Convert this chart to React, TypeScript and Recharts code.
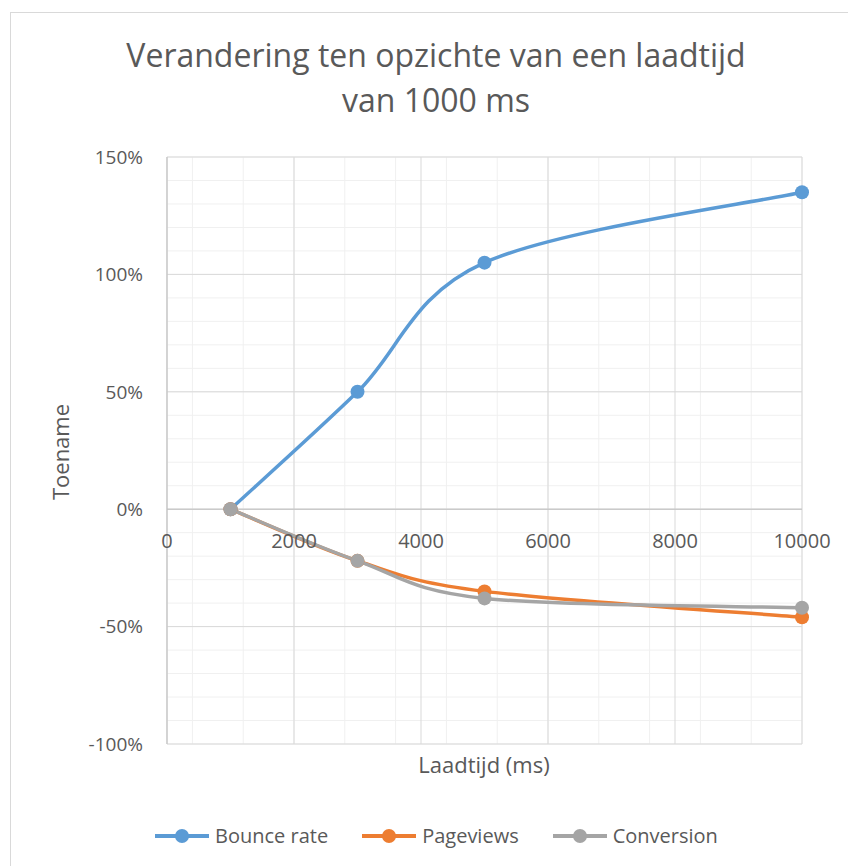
import React from 'react';
import {
  LineChart,
  Line,
  XAxis,
  YAxis,
  CartesianGrid,
  ReferenceLine,
} from 'recharts';

// load times (ms) and change in % relative to 1000 ms
const loadTimes = [1000, 3000, 5000, 10000];
const bounceRate = [0, 50, 105, 135];
const pageviews = [0, -22, -35, -46];
const conversion = [0, -22, -38, -42];

const xTicks = [0, 2000, 4000, 6000, 8000, 10000];
const yTicks = [-100, -50, 0, 50, 100, 150];

const seriesNames = ['Bounce rate', 'Pageviews', 'Conversion'];
const seriesKeys = ['bounce', 'pageviews', 'conversion'];
const seriesColors = ['#5B9BD5', '#ED7D31', '#A5A5A5'];

const xMinor = Array.from({ length: 26 }, (_, i) => i * 400);
const yMinor = Array.from({ length: 26 }, (_, i) => -100 + i * 10);

const data = loadTimes.map((x, i) => ({
  x,
  bounce: bounceRate[i],
  pageviews: pageviews[i],
  conversion: conversion[i],
}));

const W = 848;
const H = 866;
const PLOT_LEFT = 167;
const PLOT_RIGHT = 802;
const PLOT_TOP = 157;
const PLOT_BOTTOM = 744;
const ZERO_Y = PLOT_TOP + ((PLOT_BOTTOM - PLOT_TOP) * 150) / 250;

const FONT = '"Open Sans", "Noto Sans", sans-serif';
const TEXT = '#595959';

// Excel-style smoothed line (cardinal bezier, tension 1/6)
const excelSmooth = (context: any) => {
  let pts: number[][] = [];
  return {
    areaStart() {},
    areaEnd() {},
    lineStart() {
      pts = [];
    },
    point(x: number, y: number) {
      pts.push([+x, +y]);
    },
    lineEnd() {
      const n = pts.length;
      if (!n) return;
      context.moveTo(pts[0][0], pts[0][1]);
      for (let i = 0; i < n - 1; i++) {
        const p0 = pts[Math.max(i - 1, 0)];
        const p1 = pts[i];
        const p2 = pts[i + 1];
        const p3 = pts[Math.min(i + 2, n - 1)];
        context.bezierCurveTo(
          p1[0] + (p2[0] - p0[0]) / 6,
          p1[1] + (p2[1] - p0[1]) / 6,
          p2[0] - (p3[0] - p1[0]) / 6,
          p2[1] - (p3[1] - p1[1]) / 6,
          p2[0],
          p2[1]
        );
      }
    },
  };
};

const XTick = (props: any) => (
  <text
    x={props.x}
    y={ZERO_Y + 39}
    textAnchor="middle"
    fill={TEXT}
    fontSize={20}
    fontFamily={FONT}
  >
    {props.payload.value}
  </text>
);

export default function App() {
  return (
    <div
      style={{
        position: 'absolute',
        left: 0,
        top: 0,
        width: W,
        height: H,
        overflow: 'hidden',
        background: '#fff',
        fontFamily: FONT,
      }}
    >
      <div
        style={{
          position: 'absolute',
          left: 10,
          top: 12,
          width: W,
          height: H,
          border: '1px solid #d9d9d9',
        }}
      />
      <LineChart
        width={W}
        height={H}
        data={data}
        margin={{ top: PLOT_TOP, left: PLOT_LEFT - 60, right: W - PLOT_RIGHT, bottom: H - PLOT_BOTTOM - 1 }}
        style={{ position: 'absolute', left: 0, top: 0 }}
      >
        <CartesianGrid
          stroke="#f0f0f0"
          strokeWidth={1}
          horizontalValues={yMinor}
          verticalValues={xMinor}
        />
        <CartesianGrid
          stroke="#d9d9d9"
          strokeWidth={1}
          horizontalValues={yTicks}
          verticalValues={xTicks}
        />
        <XAxis
          dataKey="x"
          type="number"
          domain={[0, 10000]}
          ticks={xTicks}
          axisLine={false}
          tickLine={false}
          height={1}
          tick={<XTick />}
        />
        <YAxis
          type="number"
          domain={[-100, 150]}
          ticks={yTicks}
          width={60}
          axisLine={{ stroke: '#bfbfbf' }}
          tickLine={false}
          tickSize={0}
          tickMargin={24}
          tickFormatter={(v: number) => `${v}%`}
          tick={{ fill: TEXT, fontSize: 19, fontFamily: FONT }}
        />
        <ReferenceLine y={0} stroke="#bfbfbf" strokeWidth={1} />
        {seriesKeys.map((k, i) => (
          <Line
            key={k}
            dataKey={k}
            name={seriesNames[i]}
            type={excelSmooth as any}
            stroke={seriesColors[i]}
            strokeWidth={3.5}
            dot={{ r: 7, fill: seriesColors[i], stroke: 'none' }}
            isAnimationActive={false}
          />
        ))}
      </LineChart>
      <svg
        width={W}
        height={H}
        style={{ position: 'absolute', left: 0, top: 0, pointerEvents: 'none' }}
      >
        <text x={436} y={67} textAnchor="middle" fill={TEXT} fontSize={32} fontFamily={FONT}>
          Verandering ten opzichte van een laadtijd
        </text>
        <text x={436} y={112} textAnchor="middle" fill={TEXT} fontSize={32} fontFamily={FONT}>
          van 1000 ms
        </text>
        <text x={484} y={773} textAnchor="middle" fill={TEXT} fontSize={22} fontFamily={FONT}>
          Laadtijd (ms)
        </text>
        <text
          x={69}
          y={452}
          textAnchor="middle"
          fill={TEXT}
          fontSize={22}
          fontFamily={FONT}
          transform="rotate(-90 69 452)"
        >
          Toename
        </text>
      </svg>
      <div
        style={{
          position: 'absolute',
          left: 155,
          top: 822,
          display: 'flex',
          gap: 34,
          alignItems: 'center',
          color: TEXT,
          fontSize: 20,
        }}
      >
        {seriesNames.map((n, i) => (
          <div key={n} style={{ display: 'flex', alignItems: 'center', gap: 6 }}>
            <svg width={54} height={16}>
              <line x1={0} y1={8} x2={54} y2={8} stroke={seriesColors[i]} strokeWidth={4} />
              <circle cx={27} cy={8} r={7} fill={seriesColors[i]} />
            </svg>
            <span>{n}</span>
          </div>
        ))}
      </div>
    </div>
  );
}
